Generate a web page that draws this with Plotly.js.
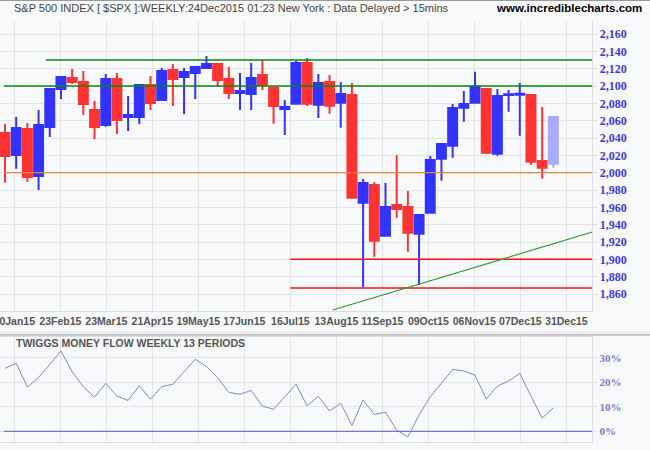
<!DOCTYPE html>
<html><head><meta charset="utf-8">
<script src="https://cdn.plot.ly/plotly-3.0.1.min.js"></script>
<style>html,body{margin:0;padding:0;background:#f8f9fb}#chart{width:650px;height:450px}</style>
</head><body><div id="chart"></div>
<script>
// ---- data (weekly bars) ----
const weeks = ['2015-01-12','2015-01-20','2015-01-26','2015-02-02','2015-02-09','2015-02-17','2015-02-23',
  '2015-03-02','2015-03-09','2015-03-16','2015-03-23','2015-03-30','2015-04-06','2015-04-13','2015-04-20',
  '2015-04-27','2015-05-04','2015-05-11','2015-05-18','2015-05-26','2015-06-01','2015-06-08','2015-06-15',
  '2015-06-22','2015-06-29','2015-07-06','2015-07-13','2015-07-20','2015-07-27','2015-08-03','2015-08-10',
  '2015-08-17','2015-08-24','2015-08-31','2015-09-08','2015-09-14','2015-09-21','2015-09-28','2015-10-05',
  '2015-10-12','2015-10-19','2015-10-26','2015-11-02','2015-11-09','2015-11-16','2015-11-23','2015-11-30',
  '2015-12-07','2015-12-14','2015-12-21'];
const openP  = [2045.8,2020.4,2050.4,1996.2,2052.7,2096.5,2109.2,2104.6,2072.3,2055.0,2108.1,2064.2,2064.2,2101.2,2083.8,
  2118.5,2110.4,2115.0,2120.8,2125.4,2108.1,2091.9,2090.8,2112.7,2097.7,2073.5,2079.6,2126.5,2078.5,2104.6,2080.8,
  2089.6,1965.4,1985.8,1927.3,1962.7,1960.4,1929.6,1953.8,2016.2,2031.2,2075.0,2080.8,2096.5,2021.9,2089.6,2090.0,
  2089.6,2013.5,2010.4];
const highP  = [2056.2,2064.2,2057.3,2072.3,2097.0,2110.6,2119.6,2117.3,2082.7,2113.8,2115.0,2088.5,2102.3,2111.5,2120.8,
  2125.4,2120.8,2123.1,2134.6,2126.0,2121.9,2115.0,2126.5,2130.0,2098.5,2083.8,2128.8,2132.3,2113.8,2112.7,2104.6,
  2103.5,1992.7,1989.0,1988.1,2020.4,1978.8,1951.5,2019.2,2033.5,2079.2,2094.2,2116.5,2097.0,2096.5,2095.4,2103.5,
  2090.0,2075.8,2064.2];
const lowP   = [1988.5,2004.6,1989.2,1980.0,2041.2,2085.0,2102.3,2066.5,2038.9,2053.0,2044.6,2048.1,2056.2,2072.3,2083.0,
  2076.9,2067.7,2085.0,2119.6,2099.5,2085.0,2072.3,2072.3,2095.4,2056.5,2043.5,2079.0,2076.9,2063.1,2068.1,2051.9,
  1970.9,1867.7,1903.1,1927.0,1948.1,1908.8,1870.4,1953.0,1990.8,2017.3,2058.8,2080.0,2021.5,2019.6,2070.4,2042.7,
  2009.2,1993.1,2005.8];
const closeP = [2019.2,2051.5,1995.0,2055.0,2096.5,2110.4,2104.6,2079.2,2052.7,2108.1,2060.8,2066.5,2101.2,2080.4,2117.3,
  2108.1,2116.2,2121.9,2125.4,2106.9,2091.9,2094.2,2109.2,2101.5,2076.9,2075.8,2126.5,2079.6,2103.5,2077.3,2090.8,
  1971.2,1988.1,1921.5,1960.4,1958.1,1930.8,1951.2,2014.6,2033.1,2074.6,2079.2,2099.2,2023.1,2088.5,2090.4,2091.2,
  2012.7,2005.8,2064.2];
const moneyFlow = [25.7,27.8,18.0,22.0,27.3,32.8,24.3,18.2,13.9,19.6,14.4,12.6,18.6,13.1,18.2,19.2,24.3,29.4,26.4,21.9,
  15.9,15.1,16.7,10.3,9.0,14.1,19.2,10.4,14.3,8.3,11.4,2.4,12.8,6.9,7.8,0.5,-2.3,6.7,14.1,19.6,
  25.3,24.6,22.9,13.2,18.5,20.5,23.7,14.4,5.4,9.6];
const xTickLabels = ['20Jan15','23Feb15','23Mar15','21Apr15','19May15','17Jun15','16Jul15','13Aug15','11Sep15',
  '09Oct15','06Nov15','07Dec15','31Dec15'];
const priceTicks = [1860,1880,1900,1920,1940,1960,1980,2000,2020,2040,2060,2080,2100,2120,2140,2160];
const mfTicks = [0,10,20,30];
const mfTickLabels = ['0%','10%','20%','30%'];
const resistanceLevels = [2130, 2100];
const pivotLevel = 2000;
const supportLevels = [1900, 1867];

// ---- layout helpers (positions only) ----
const nLast = weeks.length - 1;
const xRange = [-0.447, 52.48];
const xTickPos = xTickLabels.map((_, k) => 0.831 + 4.111 * k);
const grid = '#e4e4e8';
const lineStart = -0.09;

const traces = [
  {type:'candlestick', x: weeks.slice(0, nLast), open: openP.slice(0, nLast), high: highP.slice(0, nLast),
   low: lowP.slice(0, nLast), close: closeP.slice(0, nLast), xaxis:'x', yaxis:'y', whiskerwidth:0,
   increasing:{line:{color:'#3333ff', width:2}, fillcolor:'#3333ff'},
   decreasing:{line:{color:'#ff3333', width:2}, fillcolor:'#ff3333'}, hoverinfo:'skip', showlegend:false},
  {type:'candlestick', x: weeks.slice(nLast), open: openP.slice(nLast), high: highP.slice(nLast),
   low: lowP.slice(nLast), close: closeP.slice(nLast), xaxis:'x', yaxis:'y', whiskerwidth:0,
   increasing:{line:{color:'#aaaaff', width:2}, fillcolor:'#aaaaff'},
   decreasing:{line:{color:'#ffaaaa', width:2}, fillcolor:'#ffaaaa'}, hoverinfo:'skip', showlegend:false},
  {type:'scatter', mode:'lines', x: weeks, y: moneyFlow, xaxis:'x2', yaxis:'y2',
   line:{color:'#8585cc', width:1}, hoverinfo:'skip', showlegend:false}
];

const shapes = [
  {type:'rect', xref:'paper', yref:'paper', x0:0, x1:1, y0:(450-335)/450, y1:(450-331)/450, fillcolor:'#eeeef1', line:{width:0}, layer:'below'},
  {type:'line', xref:'paper', yref:'paper', x0:0, x1:1, y0:(450-0.5)/450, y1:(450-0.5)/450, line:{color:'#9a9a9a', width:1}},
  {type:'line', xref:'paper', yref:'paper', x0:0, x1:1, y0:(450-335)/450, y1:(450-335)/450, line:{color:'#9a9a9a', width:1}},
  {type:'line', xref:'x', yref:'y', x0:3.66, x1:xRange[1], y0:resistanceLevels[0], y1:resistanceLevels[0], line:{color:'#0a870a', width:1.3}},
  {type:'line', xref:'x', yref:'y', x0:lineStart, x1:xRange[1], y0:resistanceLevels[1], y1:resistanceLevels[1], line:{color:'#0a870a', width:1.3}},
  {type:'line', xref:'x', yref:'y', x0:lineStart, x1:xRange[1], y0:pivotLevel, y1:pivotLevel, line:{color:'#e8843a', width:1.3}},
  {type:'line', xref:'x', yref:'y', x0:25.5, x1:xRange[1], y0:supportLevels[0], y1:supportLevels[0], line:{color:'#ff1010', width:1.5}},
  {type:'line', xref:'x', yref:'y', x0:25.5, x1:xRange[1], y0:supportLevels[1], y1:supportLevels[1], line:{color:'#ff1010', width:1.5}},
  {type:'line', xref:'x', yref:'y', x0:29.28, x1:xRange[1], y0:1841.5, y1:1931.5, line:{color:'#2e9a2e', width:1.2}},
  {type:'line', xref:'x2', yref:'y2', x0:lineStart, x1:xRange[1], y0:0, y1:0, line:{color:'#7373cc', width:1.3}}
];

const layout = {
  width:650, height:450, margin:{l:0, r:0, t:0, b:0},
  paper_bgcolor:'#f8f9fb', plot_bgcolor:'#f8f9fb',
  showlegend:false, boxgap:0.2, boxgroupgap:0,
  font:{family:'Liberation Sans, Arial, sans-serif'},
  xaxis:{type:'category', categoryorder:'array', categoryarray:weeks, domain:[0, 592.3/650], range:xRange,
    anchor:'y', tickmode:'array', tickvals:xTickPos, ticktext:xTickLabels, ticks:'', tickangle:0, showgrid:true,
    gridcolor:grid, gridwidth:1, zeroline:false, showline:true, linecolor:'#dedee2',
    tickfont:{family:'Liberation Sans, Arial, sans-serif', size:10.5, color:'#555', weight:'bold'},
    rangeslider:{visible:false}, fixedrange:true},
  yaxis:{domain:[(450-311)/450, (450-21)/450], anchor:'x', side:'right', range:[1840.4, 2175],
    tickmode:'array', tickvals:priceTicks, tickformat:',d', ticks:'outside', ticklen:4, tickcolor:'#dcdce0',
    showgrid:true, gridcolor:grid, zeroline:false, showline:true, linecolor:'#dedee2',
    tickfont:{family:'Liberation Serif, Times New Roman, serif', size:12, color:'#3c3cdc', weight:'bold'}, fixedrange:true},
  xaxis2:{type:'category', categoryorder:'array', categoryarray:weeks, matches:'x', domain:[0, 592.3/650],
    anchor:'y2', tickmode:'array', tickvals:xTickPos, showticklabels:false, ticks:'', showgrid:true,
    gridcolor:grid, zeroline:false, showline:true, mirror:true, linecolor:'#dedee2', fixedrange:true},
  yaxis2:{domain:[(450-442)/450, (450-337)/450], anchor:'x2', side:'right', range:[-4.37, 38.5],
    tickmode:'array', tickvals:mfTicks, ticktext:mfTickLabels, ticks:'outside', ticklen:4, tickcolor:'#dcdce0',
    showgrid:true, gridcolor:grid, zeroline:false, showline:true, linecolor:'#dedee2',
    tickfont:{family:'Liberation Serif, Times New Roman, serif', size:11, color:'#7a7ac8', weight:'bold'}, fixedrange:true},
  shapes: shapes,
  annotations:[
    {xref:'paper', yref:'paper', x:12/650, y:(450-8)/450, xanchor:'left', yanchor:'middle', showarrow:false,
     text:'S&amp;P 500 INDEX [ $SPX ]:WEEKLY:24Dec2015 01:23 New York : Data Delayed &gt; 15mins',
     font:{family:'Liberation Sans, Arial, sans-serif', size:11, color:'#444'}},
    {xref:'paper', yref:'paper', x:644/650, y:(450-8)/450, xanchor:'right', yanchor:'middle', showarrow:false,
     text:'www.incrediblecharts.com', font:{family:'Liberation Sans, Arial, sans-serif', size:11.5, color:'#000', weight:'bold'}},
    {xref:'paper', yref:'paper', x:14/650, y:(450-343.3)/450, xanchor:'left', yanchor:'middle', showarrow:false,
     text:'TWIGGS MONEY FLOW WEEKLY 13 PERIODS', font:{family:'Liberation Sans, Arial, sans-serif', size:10.5, color:'#555', weight:'bold'}}
  ]
};

Plotly.newPlot('chart', traces, layout, {displayModeBar:false, staticPlot:true});
</script></body></html>
